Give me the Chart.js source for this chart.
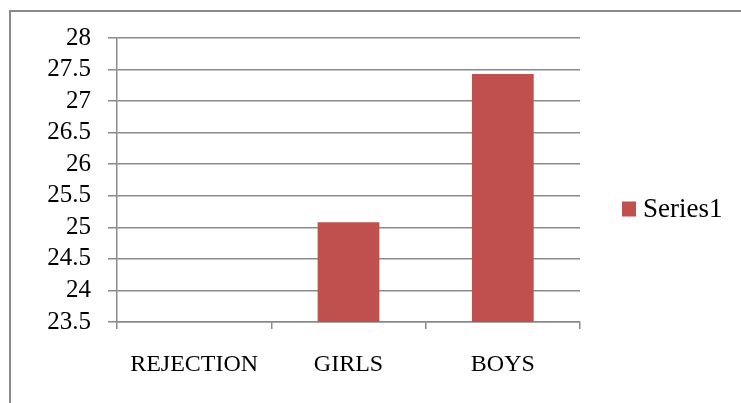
<!DOCTYPE html>
<html>
<head>
<meta charset="utf-8">
<script src="https://cdn.jsdelivr.net/npm/chart.js@4"></script>
<style>
  html, body { margin: 0; padding: 0; background: #fff; }
  #wrap { position: relative; width: 741px; height: 403px; overflow: hidden; }
  #frame { position: absolute; left: 9px; top: 10px; width: 800px; height: 500px;
           border-top: 2px solid #8a8a8a; border-left: 2px solid #8a8a8a; pointer-events: none; }
  canvas { position: absolute; left: 0; top: 0; }
</style>
</head>
<body>
<div id="wrap">
  <canvas id="c" width="741" height="403"></canvas>
  <div id="frame"></div>
</div>
<script>
const categories = ['REJECTION', 'GIRLS', 'BOYS'];
const seriesName = 'Series1';
const series1 = [null, 25.08, 27.43];
const yMin = 23.5;
const yMax = 28;
const yStep = 0.5;

const barColor = '#C0504D';
const gridColor = '#8a8a8a';
const fontFamily = '"Liberation Serif", "DejaVu Serif", serif';

const legendPlugin = {
  id: 'sideLegend',
  afterDraw(chart) {
    const ctx = chart.ctx;
    const a = chart.chartArea;
    const cy = chart.height / 2 + 7;
    const bx = a.right + 42;
    ctx.save();
    ctx.fillStyle = barColor;
    ctx.fillRect(bx, cy - 7, 14, 15);
    ctx.fillStyle = '#000';
    ctx.font = '27px ' + fontFamily;
    ctx.textBaseline = 'middle';
    ctx.textAlign = 'left';
    ctx.fillText(seriesName, bx + 21, cy + 1);
    ctx.restore();
  }
};

new Chart(document.getElementById('c'), {
  type: 'bar',
  data: {
    labels: categories,
    datasets: [{
      label: seriesName,
      data: series1,
      backgroundColor: barColor,
      borderWidth: 0,
      categoryPercentage: 1.0,
      barPercentage: 0.4
    }]
  },
  options: {
    responsive: false,
    animation: false,
    devicePixelRatio: 1,
    layout: { padding: { top: 38, left: 10, right: 161, bottom: 0 } },
    plugins: { legend: { display: false }, tooltip: { enabled: false } },
    scales: {
      x: {
        offset: true,
        grid: { offset: true, drawOnChartArea: false, drawTicks: true, tickLength: 7, color: gridColor, lineWidth: 1.5 },
        border: { display: true, color: gridColor, width: 1.5 },
        ticks: { color: '#000', font: { family: fontFamily, size: 24 }, padding: 21, maxRotation: 0, autoSkip: false },
        afterFit(scale) { scale.height = 81; }
      },
      y: {
        min: yMin,
        max: yMax,
        grid: { color: gridColor, lineWidth: 1.5, drawTicks: true, tickLength: 9 },
        border: { display: true, color: gridColor, width: 1.5 },
        ticks: {
          stepSize: yStep,
          autoSkip: false,
          color: '#000',
          font: { family: fontFamily, size: 25 },
          padding: 17,
          callback: v => String(Math.round(v * 10) / 10)
        },
        afterFit(scale) { scale.width = 107; }
      }
    }
  },
  plugins: [legendPlugin]
});
</script>
</body>
</html>
